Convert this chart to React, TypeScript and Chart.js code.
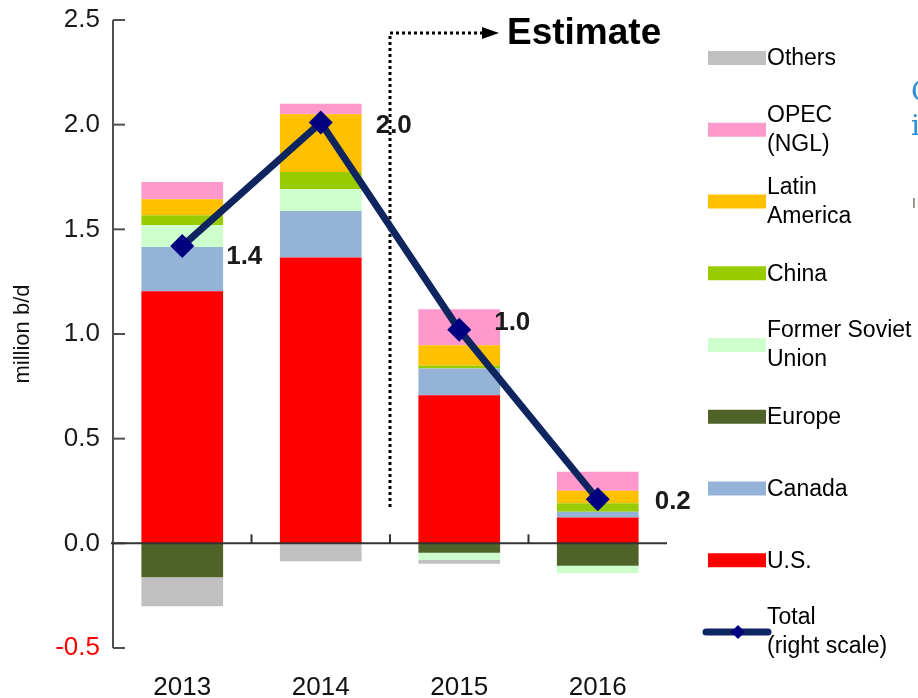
import React, { useEffect, useRef } from 'react';
import { Chart, registerables } from 'chart.js';

Chart.register(...registerables);

const categories = ['2013', '2014', '2015', '2016'];
const usValues = [1.204, 1.365, 0.707, 0.124];
const canadaValues = [0.212, 0.223, 0.128, 0.027];
const europeValues = [-0.162, 0, -0.045, -0.107];
const fsuValues = [0.103, 0.103, -0.033, -0.036];
const chinaValues = [0.048, 0.083, 0.015, 0.04];
const latinAmericaValues = [0.077, 0.276, 0.096, 0.06];
const opecValues = [0.082, 0.05, 0.172, 0.091];
const othersValues = [-0.138, -0.086, -0.02, 0];
const totalValues = [1.42, 2.01, 1.02, 0.21];
const totalLabels = ['1.4', '2.0', '1.0', '0.2'];
const yTickValues = [-0.5, 0, 0.5, 1, 1.5, 2, 2.5];
const yAxisTitle = 'million b/d';
const estimateText = 'Estimate';

const legendItems = [
  { lines: ['Others'], color: '#C0C0C0', kind: 'bar' },
  { lines: ['OPEC', '(NGL)'], color: '#FF99CC', kind: 'bar' },
  { lines: ['Latin', 'America'], color: '#FFC000', kind: 'bar' },
  { lines: ['China'], color: '#99CC00', kind: 'bar' },
  { lines: ['Former Soviet', 'Union'], color: '#CCFFCC', kind: 'bar' },
  { lines: ['Europe'], color: '#4F6228', kind: 'bar' },
  { lines: ['Canada'], color: '#95B3D7', kind: 'bar' },
  { lines: ['U.S.'], color: '#FF0000', kind: 'bar' },
  { lines: ['Total', '(right scale)'], color: '#0E2560', kind: 'line' },
];

const FONT = 'Arial, "Liberation Sans", sans-serif';
const LINE_COLOR = '#0E2560';
const MARKER_COLOR = '#000080';

const labelOffsets = [
  [62, 11],
  [73, 3],
  [53, -7],
  [75, 2],
];

const decorPlugin = {
  id: 'decor',
  beforeDatasetsDraw(chart: any) {
    const { ctx, scales } = chart;
    const x = scales.x;
    ctx.save();
    // Estimate dotted bracket
    const bx = (x.getPixelForValue(1) + x.getPixelForValue(2)) / 2;
    ctx.strokeStyle = '#000';
    ctx.lineWidth = 3;
    ctx.setLineDash([3, 3]);
    ctx.beginPath();
    ctx.moveTo(bx, 507);
    ctx.lineTo(bx, 33);
    ctx.lineTo(bx + 94, 33);
    ctx.stroke();
    ctx.setLineDash([]);
    ctx.fillStyle = '#000';
    ctx.beginPath();
    ctx.moveTo(bx + 92, 27);
    ctx.lineTo(bx + 109, 33);
    ctx.lineTo(bx + 92, 39);
    ctx.closePath();
    ctx.fill();
    ctx.font = 'bold 37px ' + FONT;
    ctx.textBaseline = 'middle';
    ctx.textAlign = 'left';
    ctx.fillText(estimateText, bx + 117, 34);
    ctx.restore();
  },
  afterDatasetsDraw(chart: any) {
    const { ctx, chartArea, scales } = chart;
    const x = scales.x;
    const y = scales.y;
    ctx.save();
    // axes
    ctx.strokeStyle = '#505050';
    ctx.lineWidth = 2;
    const left = chartArea.left;
    ctx.beginPath();
    ctx.moveTo(left, y.getPixelForValue(2.5));
    ctx.lineTo(left, y.getPixelForValue(-0.5));
    ctx.stroke();
    yTickValues.forEach((v) => {
      const py = y.getPixelForValue(v);
      ctx.beginPath();
      ctx.moveTo(left, py);
      ctx.lineTo(left + 12, py);
      ctx.stroke();
    });
    const y0 = y.getPixelForValue(0);
    ctx.strokeStyle = '#333';
    ctx.beginPath();
    ctx.moveTo(left - 2, y0);
    ctx.lineTo(chartArea.right, y0);
    ctx.stroke();
    for (let i = 1; i < categories.length; i++) {
      const px = (x.getPixelForValue(i - 1) + x.getPixelForValue(i)) / 2;
      ctx.beginPath();
      ctx.moveTo(px, y0);
      ctx.lineTo(px, y0 - 9);
      ctx.stroke();
    }
    ctx.restore();
  },
  afterDraw(chart: any) {
    const { ctx } = chart;
    ctx.save();
    // value labels
    const meta = chart.getDatasetMeta(chart.data.datasets.length - 1);
    ctx.font = 'bold 26px ' + FONT;
    ctx.fillStyle = '#1a1a1a';
    ctx.textAlign = 'center';
    ctx.textBaseline = 'middle';
    meta.data.forEach((pt: any, i: number) => {
      const off = labelOffsets[i];
      ctx.fillText(totalLabels[i], pt.x + off[0], pt.y + off[1]);
    });
    // legend
    const sx = 708;
    const sw = 58;
    const startY = 58;
    const step = 71.75;
    ctx.font = '23px ' + FONT;
    ctx.textAlign = 'left';
    legendItems.forEach((item, i) => {
      const cy = startY + i * step;
      if (item.kind === 'bar') {
        ctx.fillStyle = item.color;
        ctx.fillRect(sx, cy - 7, sw, 14);
      } else {
        ctx.strokeStyle = item.color;
        ctx.lineWidth = 7;
        ctx.lineCap = 'round';
        ctx.beginPath();
        ctx.moveTo(sx - 2, cy);
        ctx.lineTo(sx + sw + 2, cy);
        ctx.stroke();
        ctx.fillStyle = MARKER_COLOR;
        ctx.beginPath();
        const cx = sx + 30;
        ctx.moveTo(cx, cy - 7);
        ctx.lineTo(cx + 7, cy);
        ctx.lineTo(cx, cy + 7);
        ctx.lineTo(cx - 7, cy);
        ctx.closePath();
        ctx.fill();
      }
      ctx.fillStyle = '#000';
      if (item.lines.length === 1) {
        ctx.fillText(item.lines[0], sx + sw + 1, cy + 1);
      } else {
        ctx.fillText(item.lines[0], sx + sw + 1, cy - 14);
        ctx.fillText(item.lines[1], sx + sw + 1, cy + 15);
      }
    });
    // stray cropped text at the right edge
    ctx.fillStyle = '#2F8FD6';
    ctx.font = '28px "DejaVu Serif", serif';
    ctx.fillText('C', 911, 94);
    ctx.fillText('i', 911, 128);
    ctx.fillStyle = '#7a6050';
    ctx.font = '14px ' + FONT;
    ctx.fillText('I', 912, 204);
    ctx.restore();
  },
};

export default function App() {
  const canvasRef = useRef<HTMLCanvasElement>(null);
  useEffect(() => {
    if (!canvasRef.current) return;
    const barDs = (label: string, data: number[], color: string) => ({
      type: 'bar' as const,
      label,
      data,
      backgroundColor: color,
      borderWidth: 0,
      stack: 'bars',
      order: 2,
      barPercentage: 0.59,
      categoryPercentage: 1,
    });
    const chart = new Chart(canvasRef.current, {
      type: 'bar',
      data: {
        labels: categories,
        datasets: [
          barDs('U.S.', usValues, '#FF0000'),
          barDs('Canada', canadaValues, '#95B3D7'),
          barDs('Europe', europeValues, '#4F6228'),
          barDs('Former Soviet Union', fsuValues, '#CCFFCC'),
          barDs('China', chinaValues, '#99CC00'),
          barDs('Latin America', latinAmericaValues, '#FFC000'),
          barDs('OPEC (NGL)', opecValues, '#FF99CC'),
          barDs('Others', othersValues, '#C0C0C0'),
          {
            type: 'line' as const,
            label: 'Total (right scale)',
            data: totalValues,
            borderColor: LINE_COLOR,
            borderWidth: 7,
            pointStyle: 'rectRot',
            pointRadius: 12,
            pointBackgroundColor: MARKER_COLOR,
            pointBorderColor: MARKER_COLOR,
            pointBorderWidth: 0,
            stack: 'total',
            order: 0,
            tension: 0,
          } as any,
        ],
      },
      options: {
        animation: false,
        responsive: true,
        maintainAspectRatio: false,
        layout: { padding: { left: 0, top: 20, right: 251, bottom: 0 } },
        plugins: {
          legend: { display: false },
          tooltip: { enabled: false },
        },
        scales: {
          x: {
            stacked: true,
            grid: { display: false, drawTicks: false },
            border: { display: false },
            ticks: {
              color: '#111',
              font: { family: FONT, size: 26 },
              padding: 24,
            },
            afterFit: (scale: any) => {
              scale.height = 50;
            },
          },
          y: {
            stacked: true,
            min: -0.5,
            max: 2.5,
            grid: { display: false, drawTicks: false },
            border: { display: false },
            ticks: {
              stepSize: 0.5,
              padding: 13,
              font: { family: FONT, size: 26 },
              color: (c: any) => (c.tick && c.tick.value < 0 ? '#FF0000' : '#1a1a1a'),
              callback: (v: any) => Number(v).toFixed(1),
            },
            title: {
              display: true,
              text: yAxisTitle,
              color: '#111',
              font: { family: FONT, size: 22 },
              padding: { top: 10, bottom: 0 },
            },
            afterFit: (scale: any) => {
              scale.width = 113;
              scale.paddingTop = 0;
              scale.paddingBottom = 0;
            },
          },
        },
      },
      plugins: [decorPlugin],
    });
    return () => chart.destroy();
  }, []);
  return (
    <div style={{ position: 'fixed', left: 0, top: 0, width: 918, height: 698, background: '#fff' }}>
      <canvas ref={canvasRef} />
    </div>
  );
}
